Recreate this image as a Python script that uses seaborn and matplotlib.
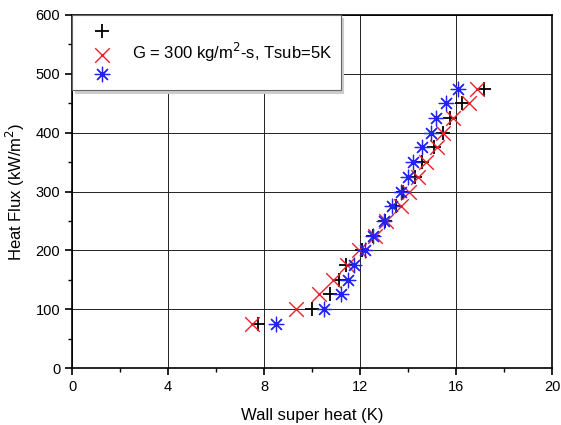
import numpy as np
import pandas as pd
import matplotlib
matplotlib.use("Agg")
import matplotlib.pyplot as plt
import seaborn as sns
from matplotlib.ticker import MultipleLocator

# -------------------------
# Data
# -------------------------
heat_flux = [75, 100, 125, 150, 175, 200, 225, 250, 275, 300,
             325, 350, 375, 400, 425, 450, 475]
wall_sh_black = [7.75, 10.01, 10.73, 11.12, 11.42, 12.07, 12.53, 13.06, 13.5, 13.8,
                 14.3, 14.58, 15.09, 15.44, 15.74, 16.27, 17.17]
wall_sh_red = [7.52, 9.32, 10.29, 10.87, 11.47, 11.95, 12.64, 13.09, 13.71, 14.05,
               14.4, 14.75, 15.19, 15.47, 15.88, 16.55, 16.89]
wall_sh_blue = [8.49, 10.52, 11.22, 11.49, 11.73, 12.19, 12.53, 13.02, 13.34, 13.71,
                13.98, 14.19, 14.58, 14.96, 15.16, 15.58, 16.1]
series_labels = ["", "G = 300 kg/m$^2$-s, Tsub=5K", ""]

# -------------------------
# Plot
# -------------------------
sns.set_style("white")
plt.rcParams['font.family'] = ['Liberation Sans', 'DejaVu Sans']
plt.rcParams.update({"text.color": "black", "axes.labelcolor": "black",
                     "xtick.color": "black", "ytick.color": "black"})

fig = plt.figure(figsize=(5.61, 4.25), dpi=100)
ax = fig.add_axes([72/561, 1 - 368/425, 480/561, 353/425])

styles = [
    (wall_sh_black, "black", "+", 1.3),
    (wall_sh_red, "#e8202a", "x", 1.0),
    (wall_sh_blue, "#2424f0", (8, 2, 0), 0.9),
]
for (xs, col, mk, lw), lab in zip(styles, series_labels):
    df = pd.DataFrame({"x": xs, "y": heat_flux})
    sns.scatterplot(data=df, x="x", y="y", ax=ax, color=col, marker=mk,
                    s=110, linewidth=lw, label=lab if lab else " ", zorder=3)

ax.set_xlim(0, 20)
ax.set_ylim(0, 600)
ax.xaxis.set_major_locator(MultipleLocator(4))
ax.xaxis.set_minor_locator(MultipleLocator(2))
ax.yaxis.set_major_locator(MultipleLocator(100))
ax.yaxis.set_minor_locator(MultipleLocator(50))
ax.grid(True, which="major", color="#222222", linewidth=0.7)
ax.tick_params(which="major", direction="out", length=5, width=1.2, labelsize=10.5,
               bottom=True, left=True)
ax.tick_params(which="minor", direction="out", length=3, width=1.0,
               bottom=True, left=True)
for sp in ax.spines.values():
    sp.set_color("black")
    sp.set_linewidth(1.2)

ax.set_xlabel("Wall super heat (K)", fontsize=12, labelpad=10)
ax.set_ylabel("Heat Flux (kW/m$^2$)", fontsize=12, labelpad=6)

handles, _ = ax.get_legend_handles_labels()
leg = ax.legend(handles, series_labels, loc="upper left", bbox_to_anchor=(0.0, 1.0),
                fontsize=12, frameon=True, fancybox=False,
                shadow={"color": "0.8", "alpha": 1.0},
                borderpad=0.5, labelspacing=0.15, handletextpad=0.5,
                borderaxespad=0.0, handlelength=2.6)
leg.get_frame().set_edgecolor("#666666")
leg.get_frame().set_linewidth(0.8)

fig.savefig("out.png", dpi=100)
